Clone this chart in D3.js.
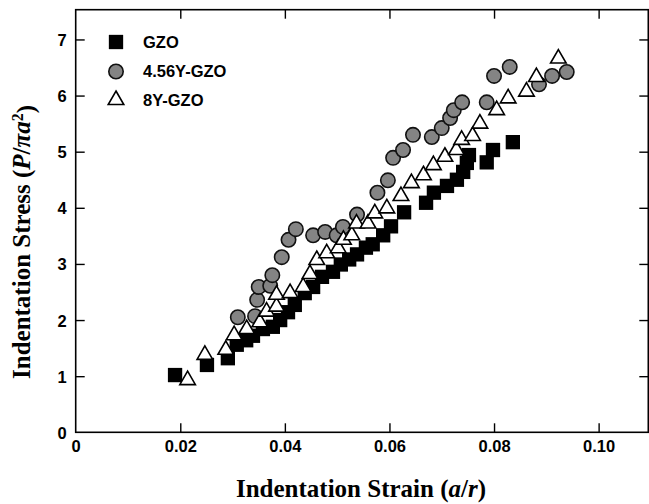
<!DOCTYPE html>
<html><head><meta charset="utf-8">
<script src="https://cdn.jsdelivr.net/npm/d3@7"></script>
<style>body{margin:0;background:#fff}</style>
</head><body>
<svg id="chart" width="649" height="504"></svg>
<script>
const seriesNames = ["GZO", "4.56Y-GZO", "8Y-GZO"];
const xTicks = [0, 0.02, 0.04, 0.06, 0.08, 0.10];
const xTickLabels = ["0", "0.02", "0.04", "0.06", "0.08", "0.10"];
const yTicks = [0, 1, 2, 3, 4, 5, 6, 7];

const gzoX = [0.0190,0.0251,0.0291,0.0308,0.0326,0.0339,0.0358,0.0377,0.0391,0.0406,0.0419,0.0438,0.0454,0.0471,0.0492,0.0507,0.0523,0.0538,0.0555,0.0568,0.0588,0.0603,0.0628,0.0670,0.0685,0.0710,0.0729,0.0741,0.0748,0.0752,0.0786,0.0798,0.0836];
const gzoY = [1.02,1.20,1.32,1.56,1.64,1.72,1.84,1.88,2.00,2.14,2.27,2.48,2.59,2.77,2.86,2.99,3.08,3.17,3.29,3.35,3.51,3.67,3.92,4.09,4.27,4.39,4.50,4.64,4.80,4.94,4.81,5.03,5.17];

const y456X = [0.0310,0.0343,0.0347,0.0350,0.0372,0.0376,0.0394,0.0407,0.0421,0.0454,0.0477,0.0499,0.0511,0.0538,0.0577,0.0597,0.0607,0.0626,0.0645,0.0681,0.0700,0.0716,0.0723,0.0739,0.0786,0.0800,0.0830,0.0886,0.0911,0.0939];
const y456Y = [2.05,2.07,2.36,2.59,2.61,2.80,3.12,3.43,3.62,3.51,3.57,3.51,3.66,3.88,4.27,4.49,4.89,5.03,5.30,5.26,5.42,5.60,5.74,5.88,5.88,6.35,6.51,6.20,6.35,6.42];

const y8X = [0.0214,0.0247,0.0287,0.0303,0.0327,0.0352,0.0365,0.0384,0.0384,0.0410,0.0435,0.0448,0.0461,0.0480,0.0502,0.0512,0.0528,0.0537,0.0559,0.0572,0.0595,0.0622,0.0642,0.0665,0.0684,0.0706,0.0728,0.0738,0.0759,0.0773,0.0805,0.0827,0.0862,0.0881,0.0923];
const y8Y = [0.93,1.38,1.47,1.73,1.84,1.96,2.15,2.24,2.45,2.48,2.59,2.82,3.07,3.19,3.28,3.43,3.51,3.72,3.72,3.90,3.99,4.21,4.44,4.58,4.76,4.91,5.03,5.21,5.28,5.50,5.74,5.95,6.07,6.33,6.66];

const svg = d3.select("#chart");
const L = 75.7, R = 648.3, T = 9.7, B = 432.3;
const x = d3.scaleLinear().domain([0, 0.1095]).range([L, R]);
const y = d3.scaleLinear().domain([0, 7.53]).range([B, T]);
const tickFont = "'Liberation Sans', Arial, sans-serif";
const titleFont = "'Liberation Serif', 'Times New Roman', serif";

// axes with inward ticks
const gB = svg.append("g").attr("transform", `translate(0,${B})`)
  .call(d3.axisBottom(x).tickValues(xTicks).tickFormat((d,i)=>xTickLabels[i]).tickSizeInner(-9).tickSizeOuter(0).tickPadding(8));
const gT = svg.append("g").attr("transform", `translate(0,${T})`)
  .call(d3.axisTop(x).tickValues(xTicks).tickFormat("").tickSizeInner(-9).tickSizeOuter(0));
const gLft = svg.append("g").attr("transform", `translate(${L},0)`)
  .call(d3.axisLeft(y).tickValues(yTicks).tickFormat(d3.format("d")).tickSizeInner(-9).tickSizeOuter(0).tickPadding(9));
const gRgt = svg.append("g").attr("transform", `translate(${R},0)`)
  .call(d3.axisRight(y).tickValues(yTicks).tickFormat("").tickSizeInner(-9).tickSizeOuter(0));
[gB, gT, gLft, gRgt].forEach(g => {
  g.select(".domain").remove();
  g.selectAll(".tick line").attr("stroke", "#000").attr("stroke-width", 1.4);
  g.selectAll("text").attr("fill", "#000").style("font-family", tickFont)
    .style("font-weight", "bold").style("font-size", "16.5px");
});
gB.selectAll(".tick").filter(d => d === 0).select("line").remove();
gT.selectAll(".tick").filter(d => d === 0).select("line").remove();
gLft.selectAll(".tick").filter(d => d === 0).select("line").remove();
gRgt.selectAll(".tick").filter(d => d === 0).select("line").remove();
gLft.selectAll("text").attr("dy", "0.36em");

svg.append("rect").attr("x", L).attr("y", T).attr("width", R - L).attr("height", B - T)
  .attr("fill", "none").attr("stroke", "#000").attr("stroke-width", 1.6);

// data
const sq = d3.symbol().type(d3.symbolSquare).size(205);
const tri = d3.symbol().type(d3.symbolTriangle).size(105);
const circR = 7.2;

svg.append("g").selectAll("path").data(d3.range(gzoX.length)).join("path")
  .attr("d", sq).attr("transform", i => `translate(${x(gzoX[i])},${y(gzoY[i])})`)
  .attr("fill", "#000");

svg.append("g").selectAll("circle").data(d3.range(y456X.length)).join("circle")
  .attr("cx", i => x(y456X[i])).attr("cy", i => y(y456Y[i])).attr("r", circR)
  .attr("fill", "#848484").attr("stroke", "#111").attr("stroke-width", 1.6);

svg.append("g").selectAll("path").data(d3.range(y8X.length)).join("path")
  .attr("d", tri).attr("transform", i => `translate(${x(y8X[i])},${y(y8Y[i])})`)
  .attr("fill", "#fff").attr("stroke", "#000").attr("stroke-width", 1.6);

// legend
const lg = svg.append("g");
const legY = [42, 71.5, 100];
lg.append("path").attr("d", sq).attr("transform", `translate(116,${legY[0]})`).attr("fill", "#000");
lg.append("circle").attr("cx", 116).attr("cy", legY[1]).attr("r", circR)
  .attr("fill", "#848484").attr("stroke", "#111").attr("stroke-width", 1.6);
lg.append("path").attr("d", tri).attr("transform", `translate(116,${legY[2]})`)
  .attr("fill", "#fff").attr("stroke", "#000").attr("stroke-width", 1.6);
lg.selectAll("text").data(seriesNames).join("text")
  .attr("x", 143).attr("y", (d, i) => legY[i]).attr("dy", "0.36em")
  .style("font-family", tickFont).style("font-weight", "bold").style("font-size", "16.5px")
  .text(d => d);

// axis titles
const xt = svg.append("text").attr("x", 361).attr("y", 497).attr("text-anchor", "middle")
  .style("font-family", titleFont).style("font-weight", "bold").style("font-size", "25px");
xt.append("tspan").text("Indentation Strain (");
xt.append("tspan").style("font-style", "italic").text("a");
xt.append("tspan").text("/");
xt.append("tspan").style("font-style", "italic").text("r");
xt.append("tspan").text(")");

const yt = svg.append("text").attr("transform", `translate(30,242) rotate(-90)`)
  .attr("text-anchor", "middle")
  .style("font-family", titleFont).style("font-weight", "bold").style("font-size", "25px");
yt.append("tspan").text("Indentation Stress (");
yt.append("tspan").style("font-style", "italic").text("P");
yt.append("tspan").text("/");
yt.append("tspan").style("font-style", "italic").text("πa");
yt.append("tspan").attr("dy", "-0.45em").style("font-size", "16px").text("2");
yt.append("tspan").attr("dy", "0.45em").text(")");
</script>
</body></html>
